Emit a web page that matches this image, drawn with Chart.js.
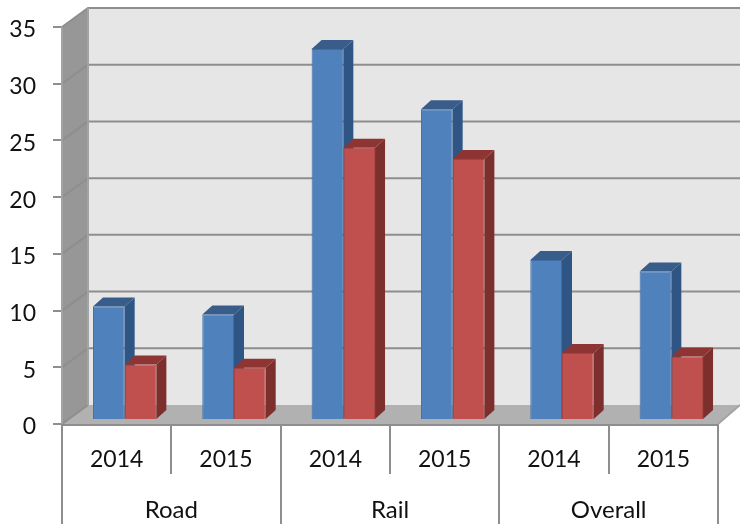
<!DOCTYPE html>
<html>
<head>
<meta charset="utf-8">
<script src="https://cdn.jsdelivr.net/npm/chart.js@4/dist/chart.umd.min.js"></script>
<style>
  html, body { margin: 0; padding: 0; background: #fff; }
  canvas { display: block; }
</style>
</head>
<body>
<canvas id="chart" width="740" height="525"></canvas>
<script>
/* ── Data ─────────────────────────────────────────────── */
const years  = ['2014', '2015', '2014', '2015', '2014', '2015'];
const groups = ['Road', 'Rail', 'Overall'];
const blueValues = [10, 9.3, 32.7, 27.4, 14.1, 13.1];
const redValues  = [4.9, 4.6, 24, 23, 5.9, 5.6];

/* ── Fake 3D settings ─────────────────────────────────── */
const WALL = { dxLeft: 26, dxRight: 22, dy: -19 };
const BAR_SHIFT = { x: 8, y: -4 };
const BAR_DEPTH = { x: 10, y: -9 };
const SHADES = {
  blue: { front: '#4f81bd', border: '#3f6da6', top: '#385d8a', side: '#2f5585' },
  red:  { front: '#c0504d', border: '#a8413f', top: '#8e3533', side: '#7d2f2d' },
};
const LINE = '#8e8e8e';
const FONT = "Lato, 'Open Sans', sans-serif";

function poly(ctx, pts, fill) {
  ctx.beginPath();
  pts.forEach((p, i) => i ? ctx.lineTo(p[0], p[1]) : ctx.moveTo(p[0], p[1]));
  ctx.closePath();
  ctx.fillStyle = fill;
  ctx.fill();
}

/* Walls + floor, positioned off the value scale */
const walls = {
  id: 'walls',
  afterLayout(chart) {
    // value labels sit a little under their tick marks
    chart.scales.y.getLabelItems().forEach(item => { item.options.translation[1] += 3; });
  },
  beforeDatasetsDraw(chart) {
    const { ctx, chartArea: a, scales: { y } } = chart;
    const l = a.left, r = a.right, t = y.getPixelForValue(35), b = y.getPixelForValue(0);
    const bl = l + WALL.dxLeft, br = r + WALL.dxRight, d = WALL.dy;
    ctx.save();
    ctx.fillStyle = '#e6e6e6';
    ctx.fillRect(bl, t + d, br - bl, b - t);
    poly(ctx, [[l, t], [bl, t + d], [bl, b + d], [l, b]], '#979797');
    poly(ctx, [[l, b], [bl, b + d], [br, b + d], [r, b]], '#b1b1b1');

    ctx.strokeStyle = LINE;
    ctx.lineWidth = 2;
    y.ticks.forEach(tick => {
      const py = y.getPixelForValue(tick.value);
      ctx.beginPath();
      ctx.moveTo(l, py);
      ctx.lineTo(bl, py + d);
      if (tick.value > 0) ctx.lineTo(br, py + d);
      ctx.stroke();
    });
    ctx.strokeStyle = '#a3a3a3';
    ctx.beginPath();
    ctx.moveTo(bl, t + d);
    ctx.lineTo(bl, b + d);
    ctx.moveTo(l, t);
    ctx.lineTo(l, b);
    ctx.moveTo(br, b + d);
    ctx.lineTo(r, b);
    ctx.stroke();
    ctx.restore();
  },
};

/* Chart.js paints the left series last, but here red has to cover blue's side face,
   so the default pass is skipped and the series are painted left to right */
function paintSeries(chart, index, c) {
  const { ctx } = chart;
  const meta = chart.getDatasetMeta(index);
  const dx = BAR_DEPTH.x, dy = BAR_DEPTH.y;
  ctx.save();
  ctx.translate(BAR_SHIFT.x, BAR_SHIFT.y);
  meta.data.forEach(bar => {
    const { x, y, base, width } = bar.getProps(['x', 'y', 'base', 'width'], true);
    const x0 = x - width / 2, x1 = x + width / 2;
    poly(ctx, [[x1, y], [x1 + dx, y + dy], [x1 + dx, base + dy], [x1, base]], c.side);
    poly(ctx, [[x0, y], [x0 + dx, y + dy], [x1 + dx, y + dy], [x1, y]], c.top);
  });
  meta.controller.draw();
  ctx.restore();
}

const bars3d = {
  id: 'bars3d',
  beforeDatasetDraw() {
    return false;
  },
  afterDatasetsDraw(chart) {
    paintSeries(chart, 0, SHADES.blue);
    paintSeries(chart, 1, SHADES.red);
  },
};

function fixBox(size) {
  return s => {
    if (s.isHorizontal()) s.height = size; else s.width = size;
    s.paddingLeft = s.paddingRight = s.paddingTop = s.paddingBottom = 0;
  };
}

new Chart(document.getElementById('chart'), {
  type: 'bar',
  data: {
    labels: years,
    datasets: [
      { data: blueValues, backgroundColor: SHADES.blue.front, borderColor: SHADES.blue.border, borderWidth: 1 },
      { data: redValues,  backgroundColor: SHADES.red.front,  borderColor: SHADES.red.border,  borderWidth: 1 },
    ],
  },
  plugins: [walls, bars3d],
  options: {
    responsive: false,
    animation: false,
    categoryPercentage: 0.58,
    barPercentage: 1,
    layout: { padding: { top: 27, right: 22, bottom: 1, left: 0 } },
    plugins: { legend: { display: false }, tooltip: { enabled: false } },
    scales: {
      y: {
        min: 0, max: 35,
        afterFit: fixBox(62),
        ticks: { stepSize: 5, color: '#111', padding: 17, font: { family: FONT, size: 23 } },
        grid: { drawOnChartArea: false, tickLength: 9, color: LINE, lineWidth: 2 },
        border: { color: '#a3a3a3', width: 2 },
      },
      x: {
        position: 'bottom', weight: 0, offset: true,
        afterFit: fixBox(50),
        ticks: { color: '#111', padding: -28, autoSkip: false, maxRotation: 0, font: { family: FONT, size: 23 } },
        grid: { offset: true, drawOnChartArea: false, tickLength: 50, color: LINE, lineWidth: 2 },
        border: { color: LINE, width: 3 },
      },
      x2: {
        type: 'category', labels: groups,
        position: 'bottom', weight: 1, offset: true,
        afterFit: fixBox(50),
        ticks: { color: '#111', padding: -28, autoSkip: false, maxRotation: 0, font: { family: FONT, size: 24 } },
        grid: { offset: true, drawOnChartArea: false, tickLength: 50, color: LINE, lineWidth: 2 },
        border: { display: false },
      },
    },
  },
});
</script>
</body>
</html>
